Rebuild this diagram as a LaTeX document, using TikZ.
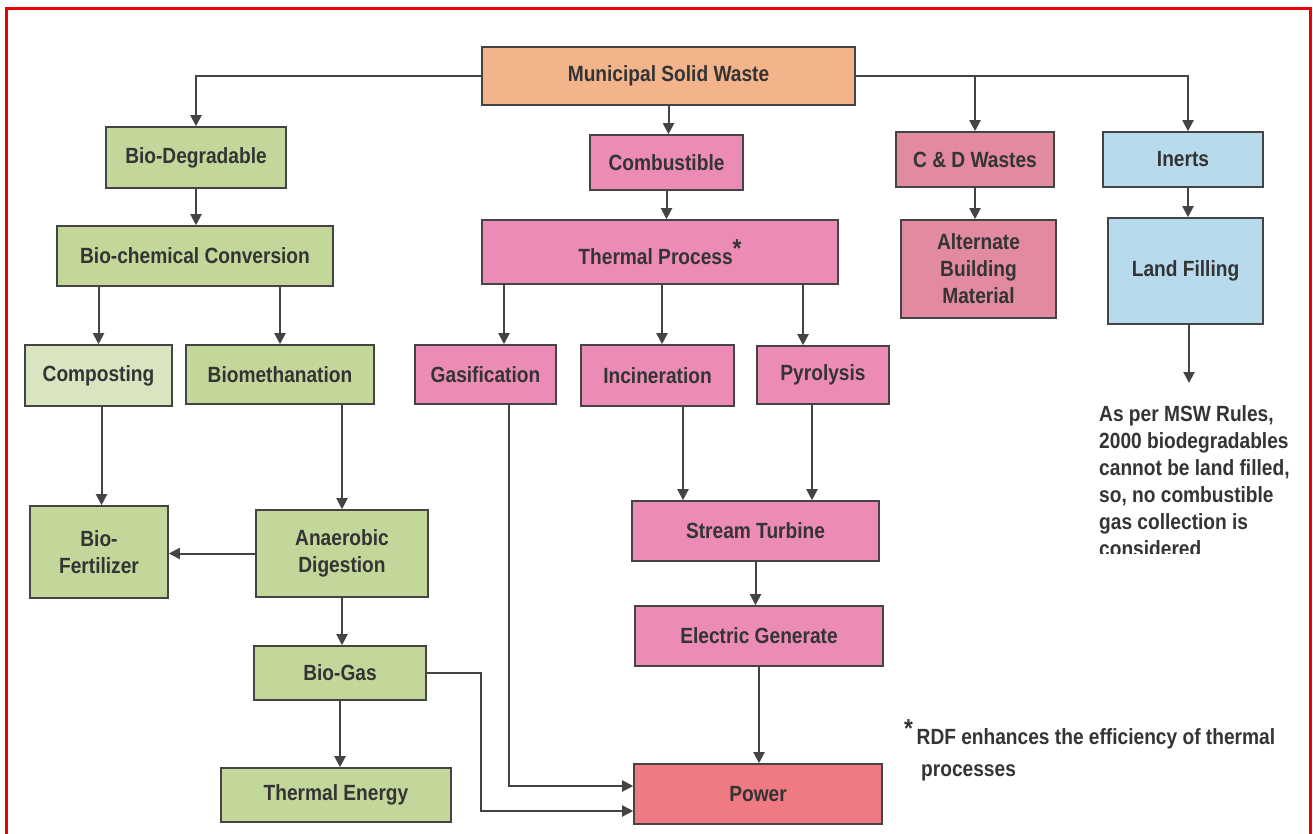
\documentclass[tikz,border=0pt]{standalone}
\usepackage{fontspec}
\setmainfont{Liberation Sans}[FakeStretch=0.87]
\usetikzlibrary{arrows.meta}

\definecolor{mswfill}{RGB}{243,180,140}
\definecolor{greenfill}{RGB}{196,215,155}
\definecolor{lightgreen}{RGB}{216,229,192}
\definecolor{pinkfill}{RGB}{236,140,182}
\definecolor{rosefill}{RGB}{226,138,160}
\definecolor{redfill}{RGB}{240,122,132}
\definecolor{bluefill}{RGB}{183,218,236}
\definecolor{linegray}{RGB}{68,68,68}
\definecolor{textgray}{RGB}{52,52,52}
\definecolor{framered}{RGB}{235,0,0}

\tikzset{
  box/.style={draw=linegray, line width=1.6pt, inner sep=0pt, align=center,
    text=textgray, font=\fontsize{22}{27}\selectfont\bfseries},
  mswbox/.style={box, fill=mswfill},
  greenbox/.style={box, fill=greenfill},
  pinkbox/.style={box, fill=pinkfill},
  rosebox/.style={box, fill=rosefill},
  bluebox/.style={box, fill=bluefill},
  plaintext/.style={inner sep=0pt, align=left, text=textgray,
    font=\fontsize{22}{27}\selectfont\bfseries},
  arr/.style={draw=linegray, line width=2pt, -{Triangle[width=11pt,length=11pt]}}
}

\begin{document}
\begin{tikzpicture}[x=1pt, y=-1pt]
\clip (0,0) rectangle (1313,833);
\fill[white] (0,0) rectangle (1313,833);
\draw[framered, line width=3pt] (6,8) rectangle (1310,850);

% top
\node[mswbox, minimum width=373pt, minimum height=58pt] (msw) at (668.5,76) {Municipal Solid Waste};

% bio-degradable branch
\node[greenbox, minimum width=180pt, minimum height=61pt] (biodeg) at (196,157.5) {Bio-Degradable};
\node[greenbox, minimum width=276pt, minimum height=60pt] (biochem) at (195,256) {Bio-chemical Conversion};
\node[box, fill=lightgreen, minimum width=147pt, minimum height=61pt] (compost) at (98.5,375.5) {Composting};
\node[greenbox, minimum width=188pt, minimum height=59pt] (biometh) at (280,374.5) {Biomethanation};
\node[greenbox, minimum width=138pt, minimum height=92pt] (fert) at (99,552) {Bio-\\Fertilizer};
\node[greenbox, minimum width=172pt, minimum height=87pt] (anaer) at (342,553.5) {Anaerobic\\Digestion};
\node[greenbox, minimum width=172pt, minimum height=54pt] (biogas) at (340,673) {Bio-Gas};
\node[greenbox, minimum width=230pt, minimum height=54pt] (thermen) at (336,795) {Thermal Energy};

% combustible branch
\node[pinkbox, minimum width=153pt, minimum height=55pt] (combust) at (666.5,162.5) {Combustible};
\node[pinkbox, minimum width=356pt, minimum height=64pt] (thermal) at (660,252) {Thermal Process\raisebox{7pt}{\fontsize{26}{26}\selectfont *}};
\node[pinkbox, minimum width=141pt, minimum height=59pt] (gasif) at (485.5,374.5) {Gasification};
\node[pinkbox, minimum width=153pt, minimum height=61pt] (incin) at (657.5,375.5) {Incineration};
\node[pinkbox, minimum width=132pt, minimum height=58pt] (pyro) at (823,375) {Pyrolysis};
\node[pinkbox, minimum width=247pt, minimum height=60pt] (turbine) at (755.5,531) {Stream Turbine};
\node[pinkbox, minimum width=248pt, minimum height=60pt] (generate) at (759,636) {Electric Generate};
\node[box, fill=redfill, minimum width=248pt, minimum height=60pt] (power) at (758,794) {Power};

% c&d and inerts
\node[rosebox, minimum width=158pt, minimum height=55pt] (cdw) at (975,159.5) {C \& D Wastes};
\node[rosebox, minimum width=155pt, minimum height=98pt] (altbm) at (978.5,269) {Alternate\\Building\\Material};
\node[bluebox, minimum width=160pt, minimum height=55pt] (inerts) at (1183,159.5) {Inerts};
\node[bluebox, minimum width=155pt, minimum height=106pt] (landfill) at (1185.5,271) {Land Filling};
\coordinate (landend) at (1189,383);

% notes
\begin{scope}
\clip (1080,390) rectangle (1305,553);
\node[plaintext, anchor=north west] (rules) at (1099,405)
  {As per MSW Rules,\\2000 biodegradables\\cannot be land filled,\\so, no combustible\\gas collection is\\considered};
\end{scope}
\node[plaintext, anchor=north west, font=\fontsize{22}{32}\selectfont\bfseries] (rdf) at (904,719)
  {\raisebox{7pt}{\fontsize{26}{26}\selectfont *}\,RDF enhances the efficiency of thermal\\\hspace*{17pt}processes};

% connectors
\draw[arr] (msw.west) -| (biodeg.north);
\draw[arr] (msw.south) -- (msw.south |- combust.north);
\draw[arr] (msw.east) -| (cdw.north);
\draw[arr] (msw.east) -| ([xshift=5pt]inerts.north);

\draw[arr] (biodeg.south) -- (biodeg.south |- biochem.north);
\draw[arr] (compost.north |- biochem.south) -- (compost.north);
\draw[arr] (biometh.north |- biochem.south) -- (biometh.north);
\draw[arr] ([xshift=3pt]compost.south) -- ([xshift=3pt]compost.south |- fert.north);
\draw[arr] (anaer.north |- biometh.south) -- (anaer.north);
\draw[arr] (anaer.west) -- (anaer.west -| fert.east);
\draw[arr] (anaer.south) -- (anaer.south |- biogas.north);
\draw[arr] (biogas.south) -- (biogas.south |- thermen.north);
\draw[arr] (biogas.east) -- ++(54,0) |- ([yshift=-17pt]power.west);

\draw[arr] (combust.south) -- (combust.south |- thermal.north);
\draw[arr] ([xshift=18.5pt]gasif.north |- thermal.south) -- ([xshift=18.5pt]gasif.north);
\draw[arr] ([xshift=4.5pt]incin.north |- thermal.south) -- ([xshift=4.5pt]incin.north);
\draw[arr] ([xshift=-20pt]pyro.north |- thermal.south) -- ([xshift=-20pt]pyro.north);
\draw[arr] ([xshift=23.5pt]gasif.south) |- ([yshift=8pt]power.west);
\draw[arr] ([xshift=-72.5pt]turbine.north |- incin.south) -- ([xshift=-72.5pt]turbine.north);
\draw[arr] ([xshift=56.5pt]turbine.north |- pyro.south) -- ([xshift=56.5pt]turbine.north);
\draw[arr] (turbine.south) -- (turbine.south |- generate.north);
\draw[arr] (generate.south) -- (generate.south |- power.north);

\draw[arr] (cdw.south) -- (cdw.south |- altbm.north);
\draw[arr] ([xshift=5pt]inerts.south) -- ([xshift=5pt]inerts.south |- landfill.north);
\draw[arr] (landend |- landfill.south) -- (landend);
\end{tikzpicture}
\end{document}
